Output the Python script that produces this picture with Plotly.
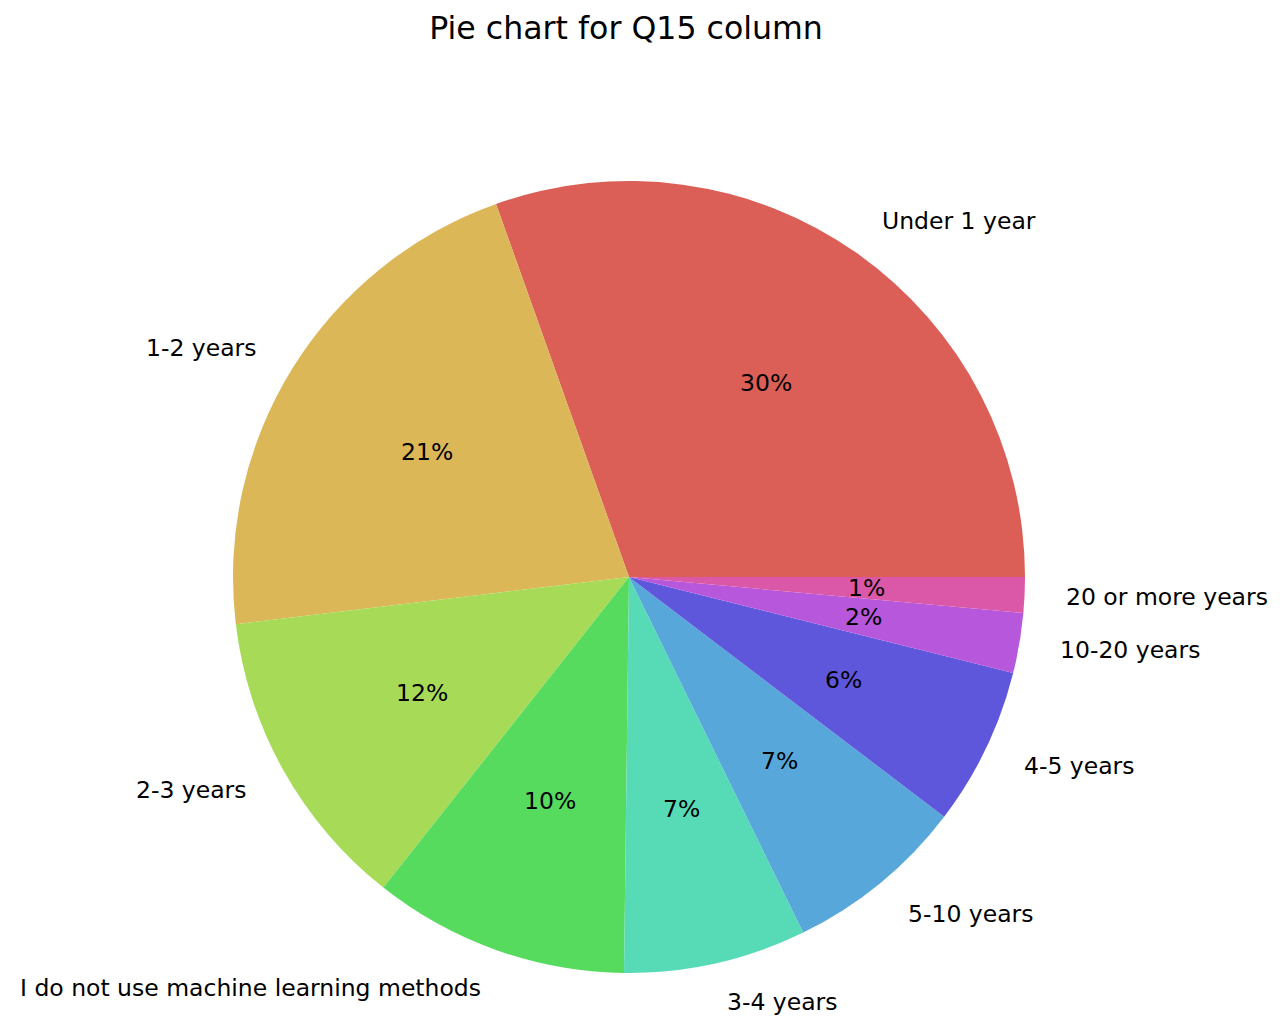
import math
import colorsys
import plotly.graph_objects as go

categories = ["Under 1 year", "1-2 years", "2-3 years", "I do not use machine learning methods",
              "3-4 years", "5-10 years", "4-5 years", "10-20 years", "20 or more years"]
values = [30.45, 21.45, 12.45, 10.45, 7.45, 7.4, 6.45, 2.45, 1.45]
title_text = "Pie chart for Q15 column"

W, H = 1280, 1025
OFF = 8  # page body margin
CX, CY, R = 629 - OFF, 577 - OFF, 396  # pixel center/radius of the pie (figure coords)

# seaborn "hls" palette
n = len(categories)
colors = []
for i in range(n):
    h = (0.01 + i / n) % 1
    r, g, b = colorsys.hls_to_rgb(h, 0.6, 0.65)
    colors.append("rgb(%d,%d,%d)" % (round(r * 255), round(g * 255), round(b * 255)))

total = sum(values)
# plotly keeps the first slice clockwise of 'rotation' even in counterclockwise mode;
# matplotlib starts the first slice at 3 o'clock going counterclockwise.
rotation = 90 - values[0] / total * 360

fig = go.Figure(go.Pie(
    labels=categories, values=values, sort=False, direction="counterclockwise",
    rotation=rotation, textinfo="none", hoverinfo="label+percent",
    marker=dict(colors=colors, line=dict(width=0)),
    domain=dict(x=[(CX - R) / W, (CX + R) / W], y=[(H - CY - R) / H, (H - CY + R) / H]),
    showlegend=False,
))

annotations = []
cum = 0.0
font = "DejaVu Sans, sans-serif"
fs = 23.5
for lab, v in zip(categories, values):
    mid = (cum + v / 2) / total * 2 * math.pi
    cum += v
    c, s = math.cos(mid), math.sin(mid)
    lx, ly = CX + 1.1 * R * c, CY - 1.1 * R * s
    annotations.append(dict(x=lx / W, y=1 - ly / H, xref="paper", yref="paper", text=lab,
                            showarrow=False, xanchor="left" if c > 0 else "right", yanchor="middle",
                            font=dict(family=font, size=fs, color="black")))
    px, py = CX + 0.6 * R * c, CY - 0.6 * R * s
    annotations.append(dict(x=px / W, y=1 - py / H, xref="paper", yref="paper",
                            text="%.0f%%" % (v / total * 100), showarrow=False,
                            xanchor="center", yanchor="middle",
                            font=dict(family=font, size=fs, color="black")))

fig.update_layout(
    width=W, height=H, margin=dict(l=0, r=0, t=0, b=0),
    paper_bgcolor="white", plot_bgcolor="white",
    title=dict(text=title_text, x=(626 - OFF) / W, xanchor="center", y=1 - (28 - OFF) / H,
               yanchor="middle", font=dict(family=font, size=31.6, color="black")),
    annotations=annotations,
)
fig.write_html("out.html")
